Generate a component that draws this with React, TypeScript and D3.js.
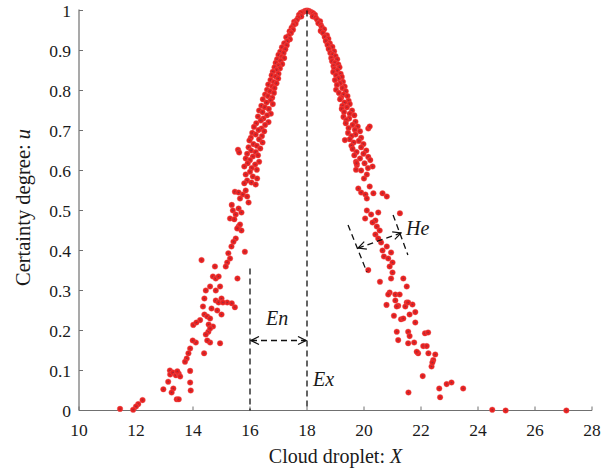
import React, { useEffect, useRef } from "react";
import * as d3 from "d3";

// droplets, [x, u]
const leftTop: [number, number][] = [
  [18.0, 1.0], [17.94, 0.999], [17.88, 0.997], [17.83, 0.995],
  [17.78, 0.994], [17.72, 0.989], [17.8, 0.985], [17.69, 0.982],
  [17.64, 0.976], [17.55, 0.972], [17.6, 0.967], [17.52, 0.963],
  [17.46, 0.957], [17.51, 0.952], [17.39, 0.948], [17.44, 0.944],
  [17.36, 0.937], [17.27, 0.933], [17.4, 0.928], [17.31, 0.923],
  [17.2, 0.918], [17.29, 0.913], [17.12, 0.908], [17.24, 0.903],
  [17.06, 0.897], [17.18, 0.894], [17.0, 0.889], [17.12, 0.884], [17.2, 0.881],
  [16.95, 0.878], [17.07, 0.874], [16.9, 0.869], [17.13, 0.866], [17.0, 0.862],
  [16.86, 0.858], [17.05, 0.855], [16.93, 0.851], [16.8, 0.847], [17.0, 0.842],
  [16.76, 0.838], [16.9, 0.835], [16.99, 0.83], [16.72, 0.826], [16.84, 0.821],
  [16.93, 0.818], [16.64, 0.815], [16.78, 0.81], [16.86, 0.806], [16.6, 0.802],
  [16.7, 0.798], [16.84, 0.794], [16.53, 0.79], [16.63, 0.786], [16.78, 0.782],
  [16.45, 0.778], [16.72, 0.775], [16.58, 0.77], [16.8, 0.766], [16.4, 0.762],
  [16.52, 0.758], [16.66, 0.754], [16.32, 0.75], [16.44, 0.746], [16.73, 0.742],
  [16.6, 0.738], [16.28, 0.735], [16.47, 0.73], [16.38, 0.725], [16.65, 0.721],
  [16.22, 0.718], [16.53, 0.714], [16.14, 0.709], [16.4, 0.705], [16.3, 0.701],
  [16.5, 0.698], [16.08, 0.694], [16.2, 0.69], [16.42, 0.686], [16.03, 0.682],
  [16.32, 0.678], [15.98, 0.675], [16.44, 0.67], [16.12, 0.666], [16.24, 0.662],
  [15.95, 0.658], [16.36, 0.655], [16.04, 0.65], [16.2, 0.646], [15.9, 0.642],
  [16.28, 0.638], [16.1, 0.635], [15.85, 0.63], [16.0, 0.626], [16.32, 0.622],
  [15.92, 0.618], [16.18, 0.615], [15.8, 0.61], [16.06, 0.606], [16.24, 0.602],
  [15.58, 0.652], [15.62, 0.645],
];

const rightTop: [number, number][] = [
  [18.06, 0.999], [18.12, 0.997], [18.17, 0.995],
  [18.22, 0.993], [18.28, 0.989], [18.2, 0.985], [18.31, 0.982],
  [18.36, 0.977], [18.46, 0.973], [18.4, 0.968], [18.49, 0.963],
  [18.52, 0.958], [18.6, 0.953], [18.48, 0.949], [18.56, 0.944],
  [18.7, 0.938], [18.62, 0.934], [18.75, 0.929], [18.66, 0.924],
  [18.8, 0.918], [18.72, 0.914], [18.89, 0.909], [18.76, 0.904],
  [18.95, 0.898], [18.82, 0.894], [18.9, 0.89], [19.0, 0.886], [18.85, 0.881],
  [19.06, 0.878], [18.88, 0.873], [18.98, 0.869], [19.1, 0.865], [18.93, 0.861],
  [19.14, 0.858], [18.96, 0.854], [19.06, 0.85], [18.92, 0.846], [19.18, 0.842],
  [19.02, 0.838], [19.22, 0.834], [19.1, 0.83], [18.98, 0.826], [19.26, 0.822],
  [19.16, 0.818], [19.05, 0.814], [19.32, 0.81], [19.24, 0.806], [19.02, 0.802],
  [19.36, 0.798], [19.12, 0.794], [19.28, 0.79], [19.42, 0.786], [19.2, 0.782],
  [19.16, 0.778], [19.46, 0.774], [19.32, 0.77], [19.5, 0.766], [19.24, 0.762],
  [19.4, 0.758], [19.22, 0.754], [19.58, 0.75], [19.3, 0.746], [19.5, 0.742],
  [19.66, 0.738], [19.28, 0.734], [19.48, 0.73], [19.38, 0.726], [19.7, 0.722],
  [19.36, 0.718], [19.6, 0.714], [19.78, 0.71], [19.46, 0.706], [19.68, 0.702],
  [19.86, 0.698], [19.44, 0.694], [19.7, 0.69], [19.56, 0.686], [19.9, 0.682],
  [19.5, 0.678], [19.82, 0.674], [19.64, 0.67], [19.98, 0.666], [19.56, 0.662],
  [19.9, 0.658], [19.6, 0.654], [20.08, 0.65], [19.74, 0.646], [19.98, 0.642],
  [19.66, 0.638], [20.15, 0.634], [19.86, 0.63], [20.22, 0.626], [19.72, 0.622],
  [20.02, 0.618], [19.75, 0.614], [20.3, 0.61], [20.14, 0.606], [19.72, 0.602],
  [20.15, 0.705], [20.2, 0.71], [19.33, 0.676],
];

const leftLow: [number, number][] = [
  [16.0, 0.597], [15.85, 0.59], [16.1, 0.585], [16.25, 0.58], [15.9, 0.575], [16.05, 0.57],
  [15.8, 0.568], [16.2, 0.565], [15.47, 0.547], [15.6, 0.545], [15.75, 0.54], [15.9, 0.535],
  [15.65, 0.53], [15.85, 0.55], [15.95, 0.52], [15.36, 0.514], [15.4, 0.5], [15.5, 0.49],
  [15.6, 0.505], [15.7, 0.495], [15.3, 0.48], [15.45, 0.478], [15.6, 0.46], [15.65, 0.465],
  [15.7, 0.45], [15.55, 0.455], [15.5, 0.43], [15.42, 0.422], [15.35, 0.41], [15.82, 0.397],
  [15.24, 0.393], [15.3, 0.38], [15.2, 0.37], [15.15, 0.36], [14.77, 0.36], [14.3, 0.376],
  [15.56, 0.33], [14.7, 0.335], [14.8, 0.33], [14.9, 0.335], [14.6, 0.31], [14.95, 0.31],
  [14.45, 0.3], [14.8, 0.3], [14.4, 0.28], [14.8, 0.275], [15.0, 0.28], [15.2, 0.27],
  [14.35, 0.26], [14.65, 0.255], [14.9, 0.27], [15.05, 0.27], [15.36, 0.268], [15.47, 0.258],
  [14.4, 0.24], [14.25, 0.226], [14.01, 0.214], [14.12, 0.22], [14.5, 0.235], [14.6, 0.23],
  [14.7, 0.21], [14.55, 0.215], [14.54, 0.197], [14.6, 0.205], [14.45, 0.19], [14.6, 0.17],
  [14.5, 0.175], [14.95, 0.168], [15.0, 0.24], [14.85, 0.25], [14.1, 0.17], [13.99, 0.175],
  [14.39, 0.143], [13.9, 0.155], [13.84, 0.143], [13.78, 0.13], [13.72, 0.122], [13.9, 0.099],
  [13.9, 0.07], [13.92, 0.05], [13.19, 0.1], [13.2, 0.09], [13.3, 0.095], [13.4, 0.088],
  [13.5, 0.092], [13.55, 0.085], [13.45, 0.098], [13.13, 0.072], [13.31, 0.055], [13.25, 0.045],
  [12.96, 0.053], [13.43, 0.028], [13.5, 0.028], [12.23, 0.026], [12.08, 0.016], [12.0, 0.01],
  [11.9, 0.002], [11.44, 0.004],
];

const rightLow: [number, number][] = [
  [19.74, 0.618], [19.9, 0.6], [20.0, 0.58], [20.1, 0.59], [19.9, 0.545], [20.05, 0.54],
  [20.1, 0.53], [19.8, 0.555], [20.33, 0.543], [20.65, 0.543], [20.8, 0.535], [20.2, 0.56],
  [20.1, 0.5], [20.25, 0.49], [20.4, 0.475], [20.5, 0.495], [21.26, 0.493], [20.04, 0.48],
  [20.3, 0.47], [20.45, 0.46], [20.55, 0.45], [20.4, 0.44], [20.6, 0.42], [20.8, 0.41],
  [20.95, 0.395], [20.65, 0.4], [20.7, 0.385], [20.5, 0.43], [20.85, 0.38], [21.0, 0.37],
  [20.15, 0.351], [20.9, 0.36], [21.0, 0.345], [20.95, 0.33], [20.56, 0.322], [21.38, 0.33],
  [21.5, 0.31], [20.9, 0.295], [21.1, 0.29], [21.25, 0.29], [20.85, 0.29], [21.1, 0.275],
  [21.5, 0.27], [21.7, 0.265], [21.45, 0.26], [21.2, 0.262], [20.79, 0.264], [21.15, 0.26],
  [21.55, 0.27], [21.05, 0.237], [21.3, 0.228], [21.38, 0.23], [21.6, 0.24], [21.8, 0.246],
  [21.8, 0.22], [21.2, 0.176], [21.15, 0.197], [21.55, 0.197], [21.6, 0.186], [22.14, 0.193],
  [22.25, 0.195], [21.55, 0.168], [21.76, 0.17], [22.08, 0.161], [22.2, 0.161], [21.9, 0.143],
  [21.85, 0.147], [22.26, 0.143], [22.5, 0.14], [22.43, 0.126], [22.37, 0.11], [22.4, 0.12],
  [22.06, 0.086], [22.9, 0.066], [23.07, 0.07], [22.64, 0.055], [23.48, 0.055], [22.67, 0.033],
  [21.56, 0.045], [24.5, 0.002], [24.97, 0.0], [27.1, 0.0],
];

const xTicks = [10, 12, 14, 16, 18, 20, 22, 24, 26, 28];
const yTicks = [0, 0.1, 0.2, 0.3, 0.4, 0.5, 0.6, 0.7, 0.8, 0.9, 1];

const Ex = 18;
const En = 2;

const W = 601;
const H = 473;
const FONT = "'Liberation Serif', 'DejaVu Serif', serif";

export default function App() {
  const ref = useRef<SVGSVGElement>(null);

  useEffect(() => {
    const svg = d3.select(ref.current);
    svg.selectAll("*").remove();

    const x = d3.scaleLinear().domain([10, 28]).range([79, 592]);
    const y = d3.scaleLinear().domain([0, 1]).range([410.5, 10.5]);

    const defs = svg.append("defs");
    defs.append("marker")
      .attr("id", "vhead")
      .attr("viewBox", "0 0 10 10")
      .attr("refX", 9).attr("refY", 5)
      .attr("markerWidth", 10).attr("markerHeight", 10)
      .attr("markerUnits", "userSpaceOnUse")
      .attr("orient", "auto-start-reverse")
      .append("path")
      .attr("d", "M1,1 L9,5 L1,9")
      .attr("fill", "none")
      .attr("stroke", "#111")
      .attr("stroke-width", 1.2);

    // axes
    const axisColor = "#707070";
    svg.append("line").attr("x1", x(10)).attr("x2", x(10)).attr("y1", y(1) - 1).attr("y2", y(0))
      .attr("stroke", axisColor).attr("stroke-width", 1.2);
    svg.append("line").attr("x1", x(10)).attr("x2", x(28)).attr("y1", y(0)).attr("y2", y(0))
      .attr("stroke", axisColor).attr("stroke-width", 1.2);

    svg.selectAll(".ytick").data(yTicks).join("line").attr("class", "ytick")
      .attr("x1", x(10)).attr("x2", x(10) + 4)
      .attr("y1", d => y(d)).attr("y2", d => y(d))
      .attr("stroke", axisColor);
    svg.selectAll(".xtick").data(xTicks).join("line").attr("class", "xtick")
      .attr("x1", d => x(d)).attr("x2", d => x(d))
      .attr("y1", y(0)).attr("y2", y(0) - 4)
      .attr("stroke", axisColor);

    svg.selectAll(".ylab").data(yTicks).join("text").attr("class", "ylab")
      .attr("x", 71).attr("y", d => y(d)).attr("dy", "0.35em")
      .attr("text-anchor", "end")
      .style("font-family", FONT).style("font-size", "17.5px").attr("fill", "#1a1a1a")
      .text(d => d3.format("~g")(d));
    svg.selectAll(".xlab").data(xTicks).join("text").attr("class", "xlab")
      .attr("x", d => x(d)).attr("y", 436)
      .attr("text-anchor", "middle")
      .style("font-family", FONT).style("font-size", "17.5px").attr("fill", "#1a1a1a")
      .text(d => d);

    const xl = svg.append("text").attr("x", (x(10) + x(28)) / 2).attr("y", 463)
      .attr("text-anchor", "middle")
      .style("font-family", FONT).style("font-size", "20px").attr("fill", "#1a1a1a");
    xl.append("tspan").text("Cloud droplet: ");
    xl.append("tspan").style("font-style", "italic").text("X");

    const yl = svg.append("text")
      .attr("transform", `translate(30,${(y(0) + y(1)) / 2 - 3}) rotate(-90)`)
      .attr("text-anchor", "middle")
      .style("font-family", FONT).style("font-size", "20.5px").attr("fill", "#1a1a1a");
    yl.append("tspan").text("Certainty degree: ");
    yl.append("tspan").style("font-style", "italic").text("u");

    // droplets
    const all = [...leftTop, ...rightTop, ...leftLow, ...rightLow];
    const g = svg.append("g");
    all.forEach(([dx, du]) => {
      g.append("circle").attr("cx", x(dx)).attr("cy", y(du)).attr("r", 2.8)
        .attr("fill", "#e8221f")
        .attr("stroke", "#ee5a60").attr("stroke-width", 0.4);
      g.append("circle").attr("cx", x(dx)).attr("cy", y(du)).attr("r", 0.75)
        .attr("fill", "#7a2d4c").attr("fill-opacity", 0.8);
    });

    // annotations
    const dash = "6,4";
    const ann = svg.append("g").attr("stroke", "#111").attr("stroke-width", 1.3).attr("fill", "none");
    ann.append("line").attr("x1", x(Ex)).attr("x2", x(Ex)).attr("y1", y(1)).attr("y2", y(0))
      .attr("stroke-dasharray", dash);
    ann.append("line").attr("x1", x(Ex - En)).attr("x2", x(Ex - En)).attr("y1", y(0.355)).attr("y2", y(0))
      .attr("stroke-dasharray", dash);
    ann.append("line").attr("x1", x(Ex - En) + 1).attr("x2", x(Ex) - 1).attr("y1", y(0.175)).attr("y2", y(0.175))
      .attr("stroke-dasharray", dash)
      .attr("marker-start", "url(#vhead)").attr("marker-end", "url(#vhead)");

    // He marks
    ann.append("line").attr("x1", x(19.44)).attr("y1", y(0.464)).attr("x2", x(20.1)).attr("y2", y(0.346))
      .attr("stroke-dasharray", dash);
    ann.append("line").attr("x1", x(21.02)).attr("y1", y(0.489)).attr("x2", x(21.54)).attr("y2", y(0.389))
      .attr("stroke-dasharray", dash);
    ann.append("line").attr("x1", x(19.79)).attr("y1", y(0.406)).attr("x2", x(21.3)).attr("y2", y(0.444))
      .attr("stroke-dasharray", dash)
      .attr("marker-start", "url(#vhead)").attr("marker-end", "url(#vhead)");

    const italic = (tx: number, ty: number, s: string) =>
      svg.append("text").attr("x", tx).attr("y", ty)
        .style("font-family", FONT).style("font-size", "20px").style("font-style", "italic")
        .attr("fill", "#1a1a1a").text(s);
    italic(266, 325, "En");
    italic(313, 386, "Ex");
    italic(406, 235, "He");
  }, []);

  return (
    <svg ref={ref} width={W} height={H}
      style={{ position: "absolute", left: 0, top: 0, background: "#fff" }} />
  );
}
